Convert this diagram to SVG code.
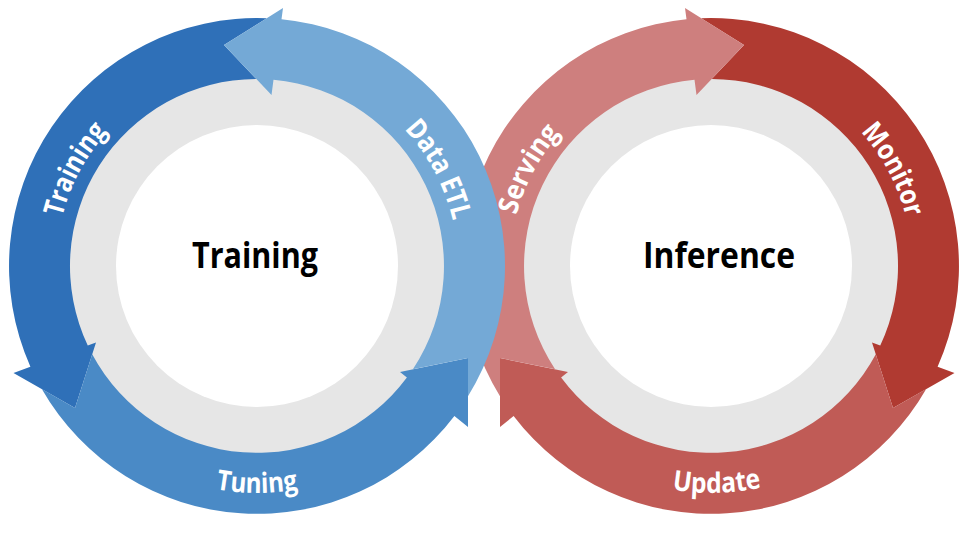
<svg xmlns="http://www.w3.org/2000/svg" width="978" height="542" viewBox="0 0 978 542">
<style>
.ring{fill:#E6E6E6}
.hole{fill:#FFFFFF}
.lbl{font-family:"Open Sans","Liberation Sans",sans-serif;font-weight:700;font-size:28px;fill:#FFFFFF}
.ttl{font-family:"Open Sans","Liberation Sans",sans-serif;font-weight:700;font-size:36px;fill:#000000;text-anchor:middle}
.dblue{fill:#2F70B8}.lblue{fill:#74A9D6}.mblue{fill:#4A8AC6}
.dred{fill:#B03A31}.lred{fill:#CE7F7E}.mred{fill:#C05B56}
</style>
<defs>
<path id="p-training" d="M86.54,372.51 A201,201 0 0 1 249.99,65.12"/>
<path id="p-dataetl" d="M264.01,65.12 A201,201 0 0 1 427.46,372.51"/>
<path id="p-tuning" d="M60.41,379.5 A227,227 0 0 0 453.59,379.5"/>
<path id="p-serving" d="M540.54,372.51 A201,201 0 0 1 703.99,65.12"/>
<path id="p-monitor" d="M718.01,65.12 A201,201 0 0 1 881.46,372.51"/>
<path id="p-update" d="M517.45,384.61 A227,227 0 0 0 910.49,374.32"/>
</defs>
<rect width="978" height="542" fill="#FFFFFF"/>
<g id="training-ring">
<circle class="ring" cx="257" cy="266" r="188"/>
<circle class="hole" cx="257" cy="266" r="141"/>
</g>
<g id="inference-ring">
<circle class="ring" cx="711" cy="266" r="188"/>
<circle class="hole" cx="711" cy="266" r="141"/>
</g>
<g id="arrow-monitor">
<path class="dred" d="M744,45 L701.2,18.2 A248,248 0 0 1 937.6,366.7 L954.5,373 L893,408 L872,342.5 L880.25,345.55 A187,187 0 0 0 711.7,79 Z"/>
<text class="lbl"><textPath href="#p-monitor" startOffset="50%" text-anchor="middle" textLength="98" lengthAdjust="spacingAndGlyphs">Monitor</textPath></text>
</g>
<g id="arrow-update">
<path class="mred" d="M893,408 L926.2,389.1 A248,248 0 0 1 513.6,416 L500,427 L500,358 L568,372 L561.1,377.6 A187,187 0 0 0 875.8,354.3 Z"/>
<text class="lbl"><textPath href="#p-update" startOffset="50%" text-anchor="middle" textLength="90" lengthAdjust="spacingAndGlyphs">Update</textPath></text>
</g>
<g id="arrow-serving">
<path class="lred" d="M500,396.3 A248,248 0 0 1 686.5,19.2 L685,8 L744,45 L696.5,95 L694.5,79.8 A187,187 0 0 0 555.1,369.3 L500,358 Z"/>
<text class="lbl"><textPath href="#p-serving" startOffset="50%" text-anchor="middle" textLength="94" lengthAdjust="spacingAndGlyphs">Serving</textPath></text>
</g>
<g id="arrow-training">
<path class="dblue" d="M224,45 L266.8,18.2 A248,248 0 0 0 30.4,366.7 L13.5,373 L75,408 L96,342.5 L87.75,345.55 A187,187 0 0 1 256.3,79 Z"/>
<text class="lbl"><textPath href="#p-training" startOffset="50%" text-anchor="middle" textLength="98" lengthAdjust="spacingAndGlyphs">Training</textPath></text>
</g>
<g id="arrow-tuning">
<path class="mblue" d="M75,408 L41.8,389.1 A248,248 0 0 0 454.4,416 L468,427 L468,358 L400,372 L406.9,377.6 A187,187 0 0 1 92.2,354.3 Z"/>
<text class="lbl"><textPath href="#p-tuning" startOffset="50%" text-anchor="middle" textLength="83" lengthAdjust="spacingAndGlyphs">Tuning</textPath></text>
</g>
<g id="arrow-data-etl">
<path class="lblue" d="M468,396.3 A248,248 0 0 0 281.5,19.2 L283,8 L224,45 L271.5,95 L273.5,79.8 A187,187 0 0 1 412.9,369.3 L468,358 Z"/>
<text class="lbl"><textPath href="#p-dataetl" startOffset="50%" text-anchor="middle" textLength="105" lengthAdjust="spacingAndGlyphs">Data ETL</textPath></text>
</g>
<g id="title-training">
<text class="ttl" x="255" y="268" textLength="126" lengthAdjust="spacingAndGlyphs">Training</text>
</g>
<g id="title-inference">
<text class="ttl" x="719" y="268" textLength="152" lengthAdjust="spacingAndGlyphs">Inference</text>
</g>
</svg>
